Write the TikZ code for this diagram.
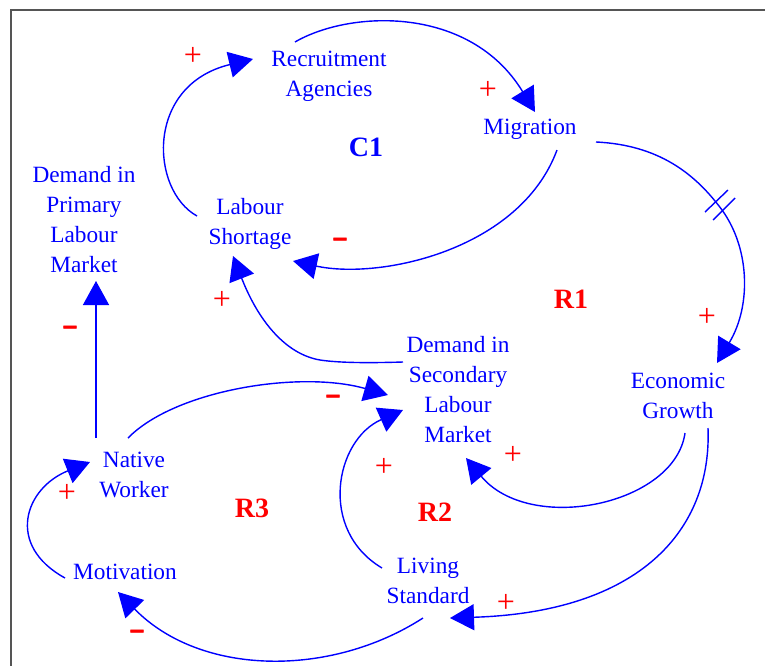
\documentclass[tikz,border=0pt]{standalone}
\usepackage{fontspec}
\setmainfont{Liberation Serif}
\newfontfamily\signfont[FakeBold=2]{Liberation Sans}
\usetikzlibrary{arrows.meta}
\definecolor{cldblue}{RGB}{0,0,255}
\definecolor{cldred}{RGB}{255,0,0}
\definecolor{framegray}{RGB}{85,85,85}
\newcommand\varsize{\fontsize{23.3}{30}\selectfont}
\newcommand\loopsize{\fontsize{28}{30}\selectfont\bfseries}
\tikzset{
  var/.style={text=cldblue, font=\varsize, align=center, inner sep=0pt},
  looplabel/.style={font=\loopsize, inner sep=0pt},
  plus/.style={text=cldred, font=\fontsize{32}{32}\selectfont, inner sep=0pt},
  minus/.style={text=cldred, font=\signfont\fontsize{26}{26}\selectfont\bfseries, inner sep=0pt},
  link/.style={draw=cldblue, line width=1.4pt, -{Triangle[length=24pt,width=26pt]}},
  delaytick/.style={draw=cldblue, line width=1.4pt},
}
\begin{document}
\begin{tikzpicture}[x=1pt,y=-1pt]
\useasboundingbox (0,0) rectangle (765,665);
\fill[white] (0,0) rectangle (765,665);
\draw[framegray, line width=2.5pt] (11,700) -- (11,10) -- (800,10);

% variables
\node[var] (ra)  at (329,76)  {Recruitment\\Agencies};
\node[var] (mig) at (530,129) {Migration};
\node[var] (dpl) at (84,220)  {Demand in\\Primary\\Labour\\Market};
\node[var] (ls)  at (250,224) {Labour\\Shortage};
\node[var] (dsl) at (458,390) {Demand in\\Secondary\\Labour\\Market};
\node[var] (eg)  at (678,396) {Economic\\Growth};
\node[var] (nw)  at (134,475) {Native\\Worker};
\node[var] (mot) at (125,572) {Motivation};
\node[var] (lst) at (428,581) {Living\\Standard};

% loop identifiers
\node[looplabel, text=cldblue] (c1) at (366,147) {C1};
\node[looplabel, text=cldred]  (r1) at (571,299) {R1};
\node[looplabel, text=cldred]  (r2) at (435,512) {R2};
\node[looplabel, text=cldred]  (r3) at (252,508) {R3};

% causal links
\draw[link] ([shift={(-53,-8)}]ls.center) .. controls (150,190) and (145,85) .. ([shift={(-76,-17)}]ra.center);
\draw[link] ([shift={(-34,-34)}]ra.center) .. controls (350,10) and (470,5) .. ([shift={(5,-17)}]mig.center);
\draw[link] ([shift={(27,21)}]mig.center) .. controls (520,250) and (380,280) .. ([shift={(43,37)}]ls.center);
\coordinate (dly) at (719,206);
\draw[link] ([shift={(66,13)}]mig.center) .. controls (660,145) and (695,175) .. (dly)
  .. controls (750,245) and (752,305) .. ([shift={(39,-33)}]eg.center);
\draw[delaytick] ([shift={(-14,6)}]dly) -- ([shift={(9,-16)}]dly);
\draw[delaytick] ([shift={(-6,14)}]dly) -- ([shift={(16,-8)}]dly);
\draw[link] ([shift={(-55,-28)}]dsl.center) .. controls (370,363) and (340,363) .. (320,360)
  .. controls (285,354) and (258,320) .. ([shift={(-17,32)}]ls.center);
\draw[link] ([shift={(7,37)}]eg.center) .. controls (675,505) and (530,535) .. ([shift={(8,68)}]dsl.center);
\draw[link] ([shift={(30,32)}]eg.center) .. controls (712,530) and (640,612) .. ([shift={(22,37)}]lst.center);
\draw[link] ([shift={(-5,37)}]lst.center) .. controls (330,678) and (200,676) .. ([shift={(-7,20)}]mot.center);
\draw[link] ([shift={(-46,-13)}]lst.center) .. controls (318,530) and (335,440) .. ([shift={(-55,20)}]dsl.center);
\draw[link] ([shift={(-6,-37)}]nw.center) .. controls (175,390) and (300,370) .. ([shift={(-70,5)}]dsl.center);
\draw[link] ([shift={(-38,-37)}]nw.center) -- ([shift={(12,61)}]dpl.center);
\draw[link] ([shift={(-60,6)}]mot.center) .. controls (5,545) and (25,488) .. ([shift={(-44,-13)}]nw.center);

% link polarities
\node[plus] (p1) at (193,56)  {+};
\node[plus] (p2) at (488,90)  {+};
\node[plus] (p3) at (707,317) {+};
\node[plus] (p4) at (222,300) {+};
\node[plus] (p5) at (513,455) {+};
\node[plus] (p6) at (384,467) {+};
\node[plus] (p7) at (67,493)  {+};
\node[plus] (p8) at (506,603) {+};
\node[minus] (m1) at (340,242) {–};
\node[minus] (m2) at (70,330)  {–};
\node[minus] (m3) at (333,399) {–};
\node[minus] (m4) at (137,634) {–};
\end{tikzpicture}
\end{document}
